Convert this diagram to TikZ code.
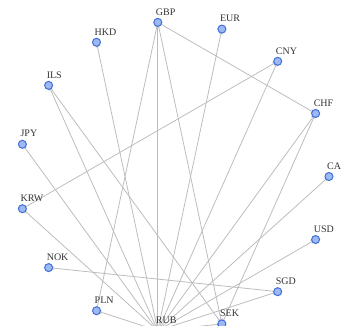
\documentclass[tikz,border=0pt]{standalone}
\usepackage{fontspec}
\setmainfont{Liberation Serif}
\usetikzlibrary{arrows.meta}
\definecolor{vfill}{HTML}{9DB8F2}
\definecolor{vborder}{HTML}{3F6FD8}
\definecolor{egray}{HTML}{BDBDBD}
\definecolor{ltext}{HTML}{333333}
\begin{document}
\begin{tikzpicture}[x=1pt,y=-1pt,
  vtx/.style={circle,draw=vborder,fill=vfill,line width=1pt,minimum size=8pt,inner sep=0pt},
  lbl/.style={anchor=south west,inner sep=0pt,text=ltext,font=\fontsize{10}{10}\selectfont},
  edge/.style={draw=egray,line width=0.8pt,-{Stealth[length=5pt,width=3.6pt]},shorten >=0.5pt}]
\useasboundingbox (0,0) rectangle (341,326);
\clip (0,0) rectangle (341,326);
\foreach \n/\a in {CAD/0,CHF/24,CNY/48,EUR/72,GBP/96,HKD/120,ILS/144,JPY/168,KRW/192,NOK/216,PLN/240,RUB/264,SEK/288,SGD/312,USD/336}{
  \coordinate (p\n) at ({174+155*cos(\a)},{176.5-155*sin(\a)});
}
% edges
\foreach \t in {HKD,ILS,JPY,KRW,PLN,SEK,SGD,USD,CAD,CHF,CNY,EUR,GBP}{
  \draw[edge] (pRUB) -- (p\t);
}
\draw[edge] (pGBP) -- (pCHF);
\draw[edge] (pPLN) -- (pGBP);
\draw[edge] (pGBP) -- (pSEK);
\draw[edge] (pILS) -- (pSEK);
\draw[edge] (pSEK) -- (pCHF);
\draw[edge] (pKRW) -- (pCNY);
\draw[edge] (pSGD) -- (pNOK);
% nodes
\foreach \n in {CAD,CHF,CNY,EUR,GBP,HKD,ILS,JPY,KRW,NOK,PLN,RUB,SEK,SGD,USD}{
  \node[vtx] (\n) at (p\n) {};
  \node[lbl] (l\n) at ([xshift=-2pt,yshift=7pt]p\n) {\n};
}
\end{tikzpicture}
\end{document}
